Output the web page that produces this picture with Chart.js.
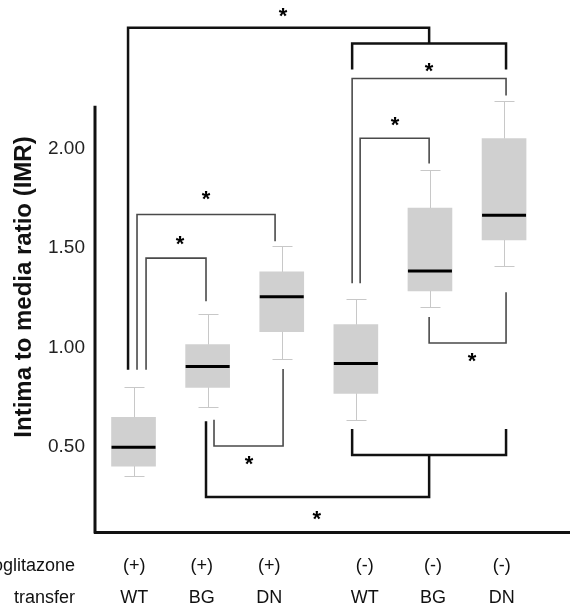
<!DOCTYPE html>
<html>
<head>
<meta charset="utf-8">
<title>Intima to media ratio</title>
<script src="https://cdn.jsdelivr.net/npm/chart.js"></script>
<style>
  body { margin: 0; background: #fff; }
  #wrap { width: 570px; height: 606px; }
</style>
</head>
<body>
<div id="wrap"><canvas id="imrChart" width="570" height="606"></canvas></div>
<script>
// groups, in x-axis units
var groupPos = [1, 2, 3, 4, 5, 6];
var drugLabels = ['(+)', '(+)', '(+)', '(-)', '(-)', '(-)'];
var geneLabels = ['WT', 'BG', 'DN', 'WT', 'BG', 'DN'];
var rowTitles = ['Pioglitazone', 'Gene\u2003transfer'];

// box plot values (IMR)
var whiskerLow  = [0.355, 0.70, 0.945, 0.635, 1.205, 1.41];
var boxLow      = [0.405, 0.80, 1.08, 0.77, 1.285, 1.54];
var medians     = [0.50, 0.905, 1.255, 0.92, 1.385, 1.665];
var boxHigh     = [0.65, 1.015, 1.38, 1.115, 1.70, 2.05];
var whiskerHigh = [0.80, 1.17, 1.51, 1.245, 1.89, 2.24];

var yTicks = [0.5, 1.0, 1.5, 2.0];

// significance brackets (x from/to, bar level, where each leg stops)
var brX1    = [0.926, 3.95, 3.95, 4.058, 4.989, 3.95, 1.978, 1.047, 1.169, 2.086];
var brX2    = [4.989, 6.027, 6.027, 4.989, 6.027, 6.027, 4.989, 2.91, 1.978, 3.018];
var brLevel = [2.606, 2.527, 2.351, 2.051, 1.023, 0.460, 0.250, 1.668, 1.449, 0.506];
var brEnd1  = [0.888, 2.396, 1.323, 1.323, 1.153, 0.591, 0.630, 0.888, 0.888, 0.637];
var brEnd2  = [2.527, 2.396, 2.266, 1.925, 1.278, 0.591, 0.460, 1.534, 1.233, 0.893];
var brBold  = [true, true, false, false, false, true, true, false, false, false];

var starX = [3.017, 4.989, 4.53, 5.567, 3.474, 1.978, 1.627, 2.558];
var starY = [2.675, 2.40, 2.126, 0.943, 0.149, 1.754, 1.529, 0.425];

// where the x labels sit (they are not centred on the boxes in the original)
var labelPos = [1.01, 1.92, 2.83, 4.12, 5.04, 5.97];

var FONT = '"Liberation Sans", Arial, Helvetica, sans-serif';

var boxParts = {
    id: 'boxParts',
    afterDatasetsDraw: function(chart) {
        var ctx = chart.ctx;
        var xs = chart.scales.x, ys = chart.scales.y;
        ctx.save();
        ctx.strokeStyle = '#c8c8c8';
        ctx.lineWidth = 1;
        for (var i = 0; i < groupPos.length; i++) {
            var cx = Math.round(xs.getPixelForValue(groupPos[i])) + 0.5;
            var yHi = Math.round(ys.getPixelForValue(whiskerHigh[i])) + 0.5;
            var yLo = Math.round(ys.getPixelForValue(whiskerLow[i])) + 0.5;
            ctx.beginPath();
            ctx.moveTo(cx, yHi);
            ctx.lineTo(cx, ys.getPixelForValue(boxHigh[i]));
            ctx.moveTo(cx, ys.getPixelForValue(boxLow[i]));
            ctx.lineTo(cx, yLo);
            ctx.moveTo(cx - 10, yHi);
            ctx.lineTo(cx + 10, yHi);
            ctx.moveTo(cx - 10, yLo);
            ctx.lineTo(cx + 10, yLo);
            ctx.stroke();
        }
        ctx.strokeStyle = '#000';
        ctx.lineWidth = 3;
        for (var j = 0; j < groupPos.length; j++) {
            var mx = xs.getPixelForValue(groupPos[j]);
            var my = ys.getPixelForValue(medians[j]);
            ctx.beginPath();
            ctx.moveTo(mx - 22, my);
            ctx.lineTo(mx + 22, my);
            ctx.stroke();
        }
        ctx.restore();
    },
    afterDraw: function(chart) {
        var ctx = chart.ctx;
        var xs = chart.scales.x, ys = chart.scales.y;
        var area = chart.chartArea;
        ctx.save();

        // partial y axis line
        ctx.strokeStyle = '#111';
        ctx.lineWidth = 3;
        ctx.beginPath();
        ctx.moveTo(area.left, ys.getPixelForValue(2.215));
        ctx.lineTo(area.left, area.bottom + 1.5);
        ctx.stroke();

        // brackets
        ctx.lineJoin = 'miter';
        for (var i = 0; i < brX1.length; i++) {
            ctx.strokeStyle = brBold[i] ? '#111' : '#4a4a4a';
            ctx.lineWidth = brBold[i] ? 2.5 : 1.6;
            var x1 = xs.getPixelForValue(brX1[i]);
            var x2 = xs.getPixelForValue(brX2[i]);
            ctx.beginPath();
            ctx.moveTo(x1, ys.getPixelForValue(brEnd1[i]));
            ctx.lineTo(x1, ys.getPixelForValue(brLevel[i]));
            ctx.lineTo(x2, ys.getPixelForValue(brLevel[i]));
            ctx.lineTo(x2, ys.getPixelForValue(brEnd2[i]));
            ctx.stroke();
        }

        // stars
        ctx.fillStyle = '#000';
        ctx.font = 'bold 22px ' + FONT;
        ctx.textAlign = 'center';
        ctx.textBaseline = 'alphabetic';
        for (var s = 0; s < starX.length; s++) {
            ctx.fillText('*', xs.getPixelForValue(starX[s]), ys.getPixelForValue(starY[s]) + 9);
        }

        // x labels, two rows
        ctx.fillStyle = '#111';
        ctx.font = '18px ' + FONT;
        ctx.textBaseline = 'middle';
        for (var k = 0; k < labelPos.length; k++) {
            var lx = xs.getPixelForValue(labelPos[k]);
            ctx.fillText(drugLabels[k], lx, 566);
            ctx.fillText(geneLabels[k], lx, 598);
        }
        ctx.textAlign = 'right';
        ctx.fillText(rowTitles[0], 75, 566);
        ctx.fillText(rowTitles[1], 75, 598);

        // y axis title
        ctx.translate(24, 287);
        ctx.rotate(-Math.PI / 2);
        ctx.textAlign = 'center';
        ctx.font = 'bold 24px ' + FONT;
        ctx.fillText('Intima to media ratio (IMR)', 0, 0);

        ctx.restore();
    }
};

var ctx = document.getElementById('imrChart').getContext('2d');
var imrChart = new Chart(ctx, {
    type: 'bar',
    data: {
        datasets: [{
            data: groupPos.map(function(p, i) {
                return { x: p, y: [boxLow[i], boxHigh[i]] };
            }),
            backgroundColor: '#d0d0d0',
            borderWidth: 0,
            barThickness: 44
        }]
    },
    options: {
        responsive: false,
        animation: false,
        layout: { padding: { top: 12, right: 0, bottom: 0, left: 0 } },
        plugins: {
            legend: { display: false },
            tooltip: { enabled: false }
        },
        scales: {
            x: {
                type: 'linear',
                offset: false,
                min: 0.48,
                max: 6.89,
                grid: { display: false, offset: false },
                border: { display: true, color: '#111', width: 3 },
                ticks: { display: false },
                afterFit: function(scale) { scale.height = 74; }
            },
            y: {
                min: 0.0738,
                max: 2.638,
                grid: { display: false, drawTicks: false },
                border: { display: false },
                afterBuildTicks: function(scale) {
                    scale.ticks = yTicks.map(function(v) { return { value: v }; });
                },
                ticks: {
                    padding: 10,
                    color: '#222',
                    font: { family: FONT, size: 19 },
                    callback: function(v) { return v.toFixed(2); }
                },
                afterFit: function(scale) { scale.width = 95; }
            }
        }
    },
    plugins: [boxParts]
});
</script>
</body>
</html>
